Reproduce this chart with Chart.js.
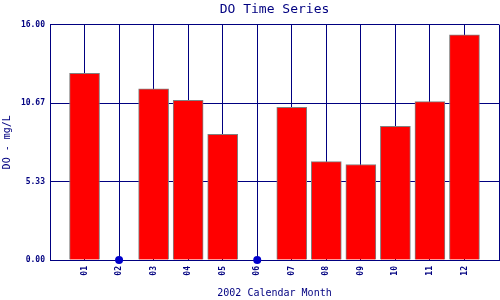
<!DOCTYPE html>
<html>
<head>
<meta charset="utf-8">
<script src="https://cdn.jsdelivr.net/npm/chart.js@4/dist/chart.umd.min.js"></script>
<style>
html,body{margin:0;padding:0;background:#fff;}
#wrap{width:500px;height:300px;}
</style>
</head>
<body>
<div id="wrap"><canvas id="c" width="500" height="300"></canvas></div>
<script>
const months = ['01','02','03','04','05','06','07','08','09','10','11','12'];
const doValues = [12.68, null, 11.64, 10.85, 8.54, null, 10.38, 6.69, 6.49, 9.08, 10.76, 15.30];
const missingMonths = ['02','06'];
const yTicks = [0, 16/3, 32/3, 16];
const titleText = 'DO Time Series';
const xTitle = '2002 Calendar Month';
const yTitle = 'DO - mg/L';

const labels = [''].concat(months, ['']);
const barData = [null].concat(doValues, [null]);
const dotData = labels.map(l => missingMonths.includes(l) ? 0 : null);

const navy = '#000080';
const mono = 'DejaVu Sans Mono';

new Chart(document.getElementById('c'), {
  type: 'bar',
  data: {
    labels: labels,
    datasets: [
      {
        type: 'bar',
        data: barData,
        backgroundColor: '#ff0000',
        borderColor: '#808080',
        borderWidth: 1,
        barThickness: 30,
        order: 2
      },
      {
        type: 'line',
        data: dotData,
        showLine: false,
        pointRadius: 4,
        pointBackgroundColor: '#0000cc',
        pointBorderColor: '#0000cc',
        pointBorderWidth: 0,
        clip: false,
        order: 1
      }
    ]
  },
  options: {
    responsive: false,
    animation: false,
    devicePixelRatio: 1,
    layout: { autoPadding: false, padding: { left: 0, right: 1, top: 0, bottom: 0 } },
    plugins: {
      legend: { display: false },
      tooltip: { enabled: false },
      title: {
        display: true,
        fullSize: false,
        text: titleText,
        color: navy,
        font: { family: mono, size: 13, weight: 'normal', lineHeight: 1.2 },
        padding: { top: 2, bottom: 7 }
      }
    },
    scales: {
      x: {
        type: 'category',
        offset: false,
        grid: { color: navy, lineWidth: 1, drawTicks: false, offset: false },
        border: { color: navy, width: 1 },
        ticks: {
          autoSkip: false,
          maxRotation: 90,
          minRotation: 90,
          padding: 6,
          color: navy,
          font: { family: mono, size: 8, weight: 'bold' }
        },
        title: {
          display: true,
          text: xTitle,
          color: navy,
          font: { family: mono, size: 10 },
          padding: { top: 0, bottom: 1 }
        },
        afterFit: s => { s.height = 40; s.paddingLeft = 0; s.paddingRight = 0; }
      },
      y: {
        min: 0,
        max: 16,
        grid: { color: navy, lineWidth: 1, drawTicks: false },
        border: { color: navy, width: 1 },
        afterBuildTicks: s => { s.ticks = yTicks.map(v => ({ value: v })); },
        ticks: {
          padding: 5,
          color: navy,
          font: { family: mono, size: 8, weight: 'bold' },
          callback: v => Number(v).toFixed(2)
        },
        title: {
          display: true,
          text: yTitle,
          color: navy,
          font: { family: mono, size: 10 },
          padding: { top: 1, bottom: 0 }
        },
        afterFit: s => { s.width = 50; s.paddingTop = 0; s.paddingBottom = 0; }
      }
    }
  }
});
</script>
</body>
</html>
